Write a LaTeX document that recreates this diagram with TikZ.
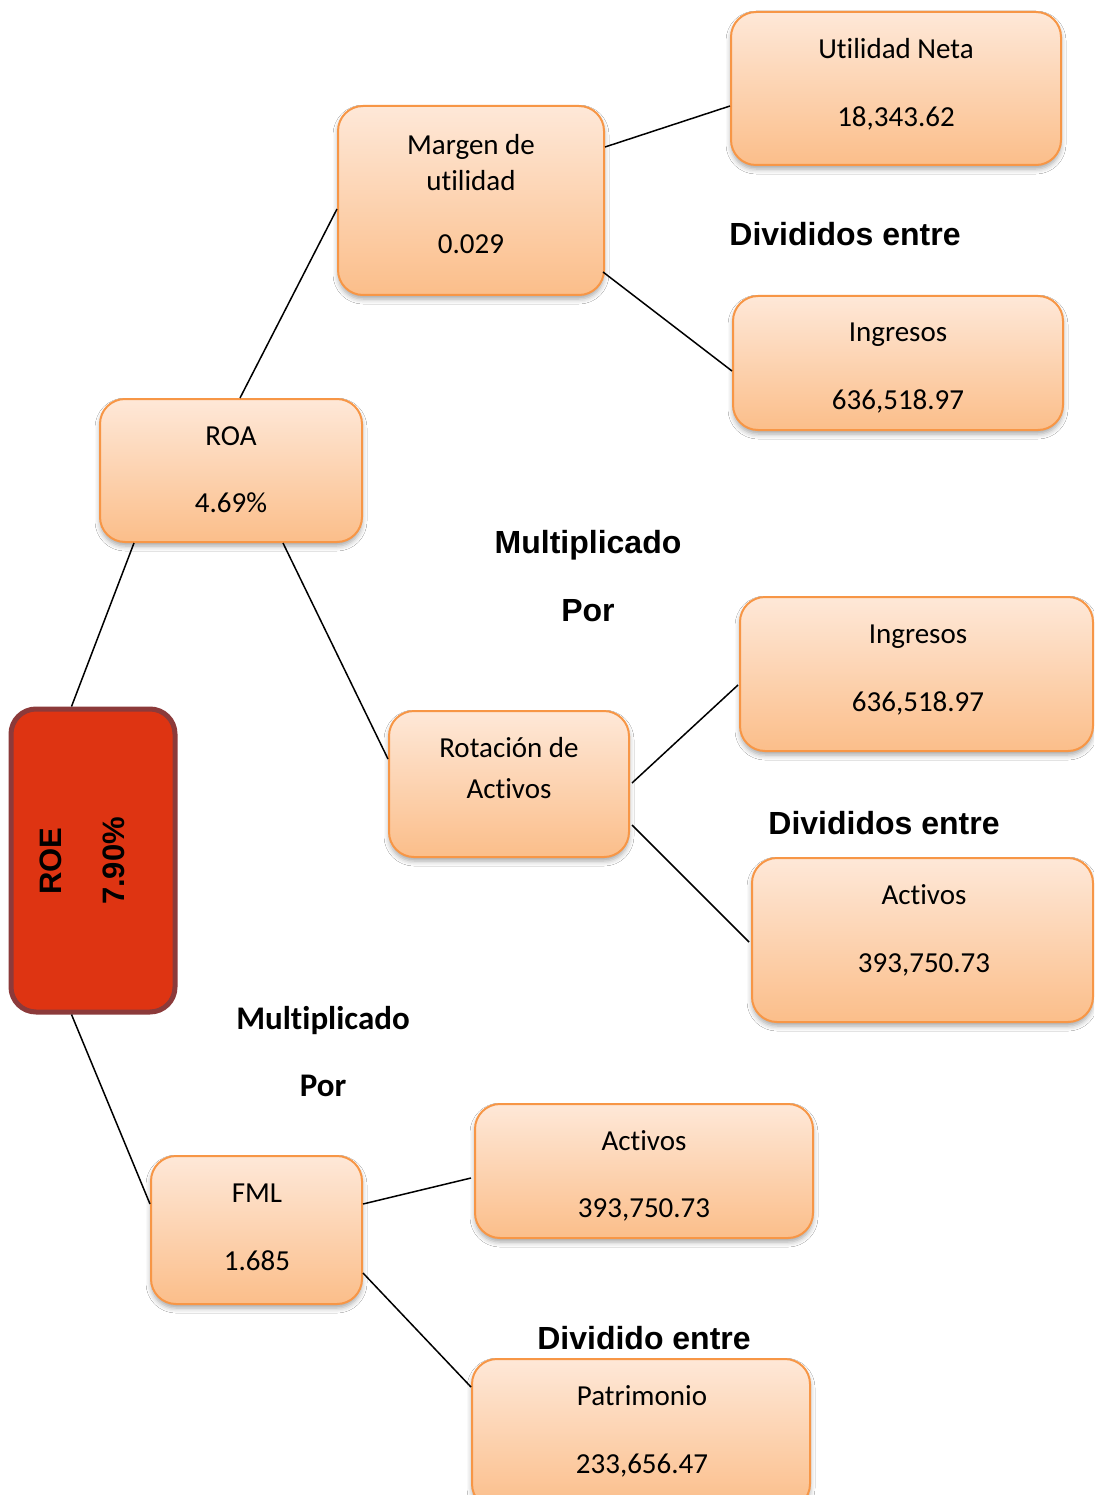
\documentclass[tikz,border=0pt]{standalone}
\usepackage{fontspec}
\newfontfamily\calfont[Ligatures=NoCommon]{Carlito}
\newfontfamily\arialfont{Liberation Sans}
\usetikzlibrary{shadows.blur}
\definecolor{boxtop}{RGB}{254,232,216}
\definecolor{boxbot}{RGB}{251,190,138}
\definecolor{boxline}{RGB}{247,150,70}
\definecolor{roefill}{RGB}{222,52,18}
\definecolor{roeline}{RGB}{140,58,58}
\tikzset{
  pbox/.style={draw=boxline, line width=2pt, rounded corners=25pt,
    top color=boxtop, bottom color=boxbot, inner sep=0pt,
    blur shadow={shadow xshift=0pt, shadow yshift=-4pt, shadow blur radius=5pt, shadow opacity=35}},
  roebox/.style={draw=roeline, line width=5pt, rounded corners=25pt, fill=roefill, inner sep=0pt},
  txt/.style={font=\calfont\fontsize{29}{34}\selectfont, text height=0.65em, text depth=0pt, inner sep=0pt, yshift=-6pt},
  lbl/.style={font=\arialfont\bfseries\fontsize{32}{38}\selectfont, text height=0.72em, text depth=0pt, inner sep=0pt, yshift=-7pt},
  lblc/.style={font=\calfont\bfseries\fontsize{33}{38}\selectfont, text height=0.65em, text depth=0pt, inner sep=0pt, yshift=-7pt},
  roetxt/.style={font=\arialfont\bfseries\fontsize{31}{36}\selectfont, text height=0.72em, text depth=0pt, inner sep=0pt, rotate=90},
  conn/.style={draw=black, line width=1.5pt}
}
\begin{document}
\begin{tikzpicture}[x=1pt,y=-1pt]
\useasboundingbox (0,0) rectangle (1094,1495);
\clip (0,0) rectangle (1094,1495);
\fill[white] (0,0) rectangle (1094,1495);

% boxes (center, size)
\node[pbox, minimum width=330, minimum height=153] (un)  at (896,88.5) {};
\node[pbox, minimum width=266, minimum height=189] (mu)  at (471,200.5) {};
\node[pbox, minimum width=330, minimum height=134] (in1) at (898,363) {};
\node[pbox, minimum width=262, minimum height=143] (roa) at (231,470.5) {};
\node[pbox, minimum width=353, minimum height=154] (in2) at (916.5,674) {};
\node[pbox, minimum width=240, minimum height=146] (rot) at (509,784) {};
\node[pbox, minimum width=341, minimum height=164] (ac1) at (922.5,940) {};
\node[pbox, minimum width=211, minimum height=148] (fml) at (256.5,1230) {};
\node[pbox, minimum width=338, minimum height=134] (ac2) at (644,1171) {};
\node[pbox, minimum width=338, minimum height=150] (pat) at (641,1434) {};
\node[roebox, minimum width=164, minimum height=303] (roe) at (93,860.5) {};

% connectors
\draw[conn] ([yshift=-42pt]mu.north east) -- ([yshift=-95pt]un.north west);
\draw[conn] ([xshift=-2pt,yshift=-167pt]mu.north east) -- ([yshift=-76pt]in1.north west);
\draw[conn] ([xshift=141pt]roa.north west) -- ([yshift=-104pt]mu.north west);
\draw[conn] ([xshift=35pt]roa.south west) -- ([xshift=63pt]roe.north west);
\draw[conn] ([xshift=184pt]roa.south west) -- ([yshift=-49pt]rot.north west);
\draw[conn] ([xshift=2pt,yshift=-73pt]rot.north east) -- ([xshift=-1pt,yshift=-89pt]in2.north west);
\draw[conn] ([xshift=2pt,yshift=-115pt]rot.north east) -- ([xshift=-2pt,yshift=-85pt]ac1.north west);
\draw[conn] ([xshift=63pt]roe.south west) -- ([yshift=-49pt]fml.north west);
\draw[conn] ([yshift=-49pt]fml.north east) -- ([xshift=-3pt,yshift=-75pt]ac2.north west);
\draw[conn] ([yshift=-118pt]fml.north east) -- ([yshift=-29pt]pat.north west);

% box texts
\node[txt] (t1) at (896,49) {Utilidad Neta};
\node[txt] (t2) at (896,117) {18,343.62};
\node[txt] (t3) at (471,145) {Margen de};
\node[txt] (t4) at (471,181) {utilidad};
\node[txt] (t5) at (471,244) {0.029};
\node[txt] (t6) at (898,332) {Ingresos};
\node[txt] (t7) at (898,400) {636,518.97};
\node[txt] (t8) at (231,436) {ROA};
\node[txt] (t9) at (231,503) {4.69\%};
\node[txt] (t10) at (918,634) {Ingresos};
\node[txt] (t11) at (918,702) {636,518.97};
\node[txt] (t12) at (509,748) {Rotación de};
\node[txt] (t13) at (509,789) {Activos};
\node[txt] (t14) at (924,895) {Activos};
\node[txt] (t15) at (924,963) {393,750.73};
\node[txt] (t16) at (257,1193) {FML};
\node[txt] (t17) at (257,1261) {1.685};
\node[txt] (t18) at (644,1141) {Activos};
\node[txt] (t19) at (644,1208) {393,750.73};
\node[txt] (t20) at (642,1396) {Patrimonio};
\node[txt] (t21) at (642,1464) {233,656.47};

% ROE texts
\node[roetxt] (r1) at (58,861) {ROE};
\node[roetxt] (r2) at (121,861) {7.90\%};

% labels
\node[lbl] (l1) at (845,235) {Divididos entre};
\node[lbl] (l2) at (588,543) {Multiplicado};
\node[lbl] (l3) at (588,611) {Por};
\node[lbl] (l4) at (884,824) {Divididos entre};
\node[lbl] (l5) at (644,1339) {Dividido entre};
\node[lblc] (l6) at (323,1019) {Multiplicado};
\begin{scope}
\clip (200,1050) rectangle (450,1096);
\node[lblc] (l7) at (323,1086) {Por};
\end{scope}
\end{tikzpicture}
\end{document}
